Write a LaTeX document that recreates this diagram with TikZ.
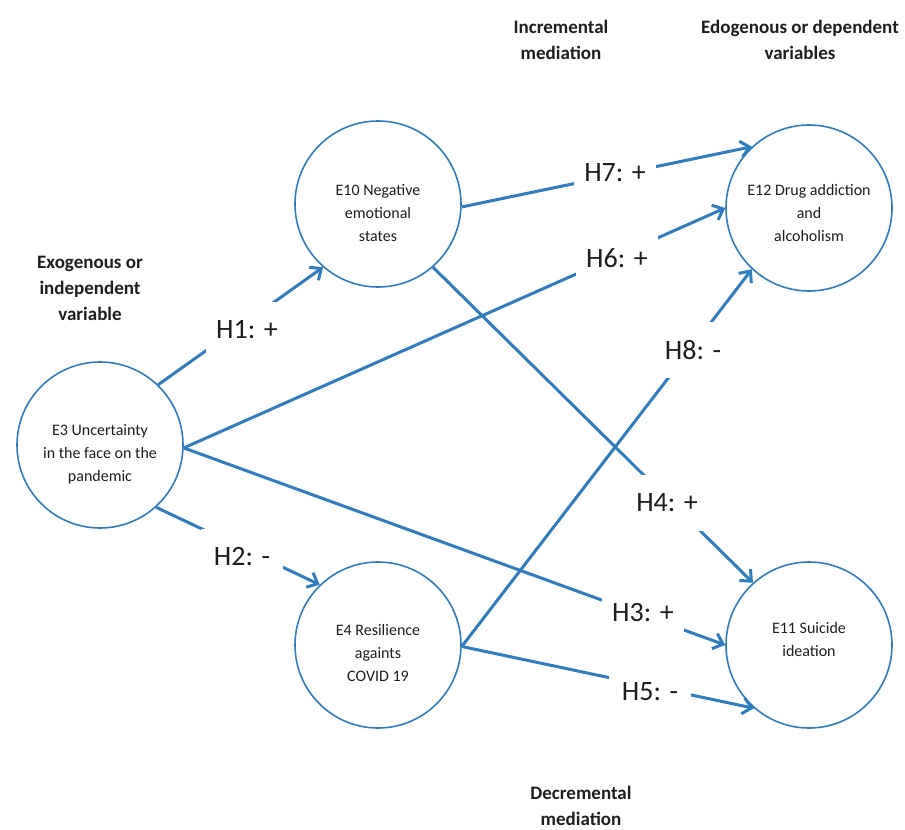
\documentclass[tikz,border=0pt]{standalone}
\usepackage{fontspec}
\setmainfont{Carlito}
\usetikzlibrary{arrows.meta}
\definecolor{lineblue}{RGB}{46,125,192}
\definecolor{txt}{RGB}{30,30,30}
\begin{document}
\begin{tikzpicture}[x=1pt,y=-1pt,
 var/.style={circle,draw=lineblue,line width=1.6pt,fill=white,minimum size=166pt,inner sep=0pt,align=center,font=\fontsize{16}{23}\selectfont,text=txt},
 conn/.style={draw=lineblue,line width=3pt,-{Straight Barb[length=9pt,width=16pt]}},
 hyp/.style={fill=white,minimum width=82pt,minimum height=56pt,inner sep=0pt,font=\fontsize{28}{32}\selectfont,text=txt},
 head/.style={align=center,font=\bfseries\fontsize{19}{26}\selectfont,text=txt}]
\useasboundingbox (0,0) rectangle (905,830);

\node[var] (E3) at (100,445) {\rule{0pt}{30.5pt}E3 Uncertainty\\in the face on the\\pandemic};
\node[var] (E10) at (378,204) {\rule{0pt}{28.5pt}E10 Negative\\emotional\\states};
\node[var] (E4) at (378,645) {\rule{0pt}{28pt}E4 Resilience\\againts\\COVID 19};
\node[var] (E12) at (809,208) {\rule{0pt}{22pt}E12 Drug addiction\\and\\alcoholism};
\node[var] (E11) at (809,645) {E11 Suicide\\ideation\rule[-12pt]{0pt}{12pt}};

\draw[conn] (E3.46) -- (E10.229);
\draw[conn] (E3.-48) -- (E4.134);
\draw[conn] (E3.-2) -- (E12.180);
\draw[conn] (E3.-2) -- (E11.180);
\draw[conn] (E10.-2) -- (E12.133);
\draw[conn] (E10.-49) -- (E11.132);
\draw[conn] (E4.-1) -- (E12.227);
\draw[conn] (E4.-1) -- (E11.229);

\node[hyp] (h1) at (247,330) {H1: +};
\node[hyp] (h2) at (242,557) {H2: -};
\node[hyp] (h3) at (643,613) {H3: +};
\node[hyp] (h4) at (667,503) {H4: +};
\node[hyp] (h5) at (650,692) {H5: -};
\node[hyp] (h6) at (617,258) {H6: +};
\node[hyp] (h7) at (615,173) {H7: +};
\node[hyp] (h8) at (693,350) {H8: -};

\node[head] (exo) at (90,288) {Exogenous or\\independent\\variable};
\node[head] (inc) at (561,40) {Incremental\\mediation};
\node[head] (edo) at (800,40) {Edogenous or dependent\\variables};
\node[head] (dec) at (581,806) {Decremental\\mediation};
\end{tikzpicture}
\end{document}
